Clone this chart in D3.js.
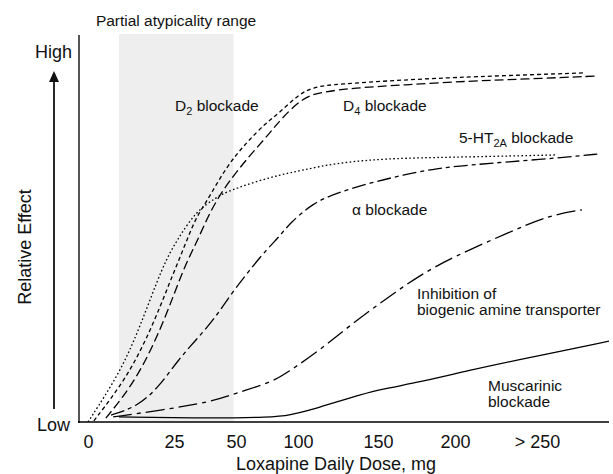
<!DOCTYPE html>
<html>
<head>
<meta charset="utf-8">
<script src="https://cdn.jsdelivr.net/npm/d3@7"></script>
<style>
  html, body { margin: 0; padding: 0; background: #fff; }
  svg { display: block; font-family: "Liberation Sans", Arial, Helvetica, sans-serif; }
</style>
</head>
<body>
<svg id="chart" width="613" height="474"></svg>
<script>
// ---- data (dose in mg, relative effect 0..100) ----
const doseTicks = [0, 25, 50, 100, 150, 200, 250];
const tickLabels = ["0", "25", "50", "100", "150", "200", "> 250"];
const shadeRange = [9, 49];

const d2Blockade = [[1.7,0.3],[11.3,11.4],[18.3,23.8],[23.8,36.2],[28.6,44.4],[33.9,53.0],[37.9,56.6],[46,65.9],[58.1,72.1],[74.2,77.3],[84.7,79.8],[100,84.5],[109.4,86.6],[124.4,87.3],[166.2,88.4],[209.1,89.2],[278,90.2]];
const d4Blockade = [[5.2,1.0],[14.2,10.9],[22.1,25.8],[29,40.1],[34.3,46.5],[40.3,55.6],[48.4,63.3],[62.9,69.5],[77.4,74.7],[85.5,78.0],[103.1,84.0],[115.6,85.3],[134.4,86.3],[166.2,87.1],[209.1,88.1],[241.5,88.6],[286.6,89.4]];
const ht2aBlockade = [[0,0],[9.3,12.7],[15.1,24.5],[21.8,40.6],[26.2,47.0],[33.9,54.5],[42.3,58.1],[46,59.4],[62.5,61.8],[84.7,63.8],[103,65.1],[124,66.9],[145,67.7],[166,68.2],[209,68.5],[261,69.0]];
const alphaBlockade = [[6.7,1.8],[14.2,3.9],[20.6,9.0],[26.6,16.0],[33.9,21.2],[41.9,27.1],[48.8,33.9],[72.6,43.9],[84.7,47.8],[93.5,51.4],[109.4,56.6],[124.4,59.2],[145,61.8],[166.2,63.8],[188.3,65.6],[209.1,66.4],[231.7,67.2],[262.2,68.2],[288.4,69.3]];
const amineTransporter = [[7.3,1.3],[21.5,3.1],[40.3,5.2],[50,7.5],[77.4,10.1],[91.1,12.7],[113.8,18.6],[134.4,25.6],[155.8,32.0],[177.3,38.0],[198.7,42.6],[231.7,48.8],[257.9,53.5],[277.4,54.8]];
const muscarinic = [[9,1.3],[35,1.0],[80,1.2],[93.5,1.8],[107.5,3.1],[113.8,3.9],[132.4,6.2],[149.4,8.3],[177.3,10.3],[209.1,13.4],[237.8,16.0],[294,20.9]];

// ---- layout ----
const svg = d3.select("#chart");
const plot = { left: 79, right: 609, top: 35, bottom: 422 };
const font = "\"Liberation Sans\", Arial, Helvetica, sans-serif";
const ink = "#111";

// non-linear dose axis (piecewise linear between tick positions)
const x = d3.scaleLinear()
  .domain([0, 25, 50, 100, 150, 200, 250, 300])
  .range([88, 174, 236, 298, 378, 455, 537, 619]);
const y = d3.scaleLinear().domain([0, 100]).range([plot.bottom, plot.top]);

svg.append("defs").append("clipPath").attr("id", "clip")
  .append("rect").attr("x", plot.left).attr("y", 0)
  .attr("width", plot.right - plot.left).attr("height", plot.bottom);

// shaded partial atypicality range
svg.append("rect")
  .attr("x", x(shadeRange[0])).attr("y", plot.top - 1)
  .attr("width", x(shadeRange[1]) - x(shadeRange[0]))
  .attr("height", plot.bottom - plot.top + 1)
  .attr("fill", "#eeeeee");

svg.append("text").attr("x", 176).attr("y", 26)
  .attr("text-anchor", "middle").attr("font-size", 15.5).attr("fill", ink)
  .text("Partial atypicality range");

// curves
const line = d3.line().x(d => x(d[0])).y(d => y(d[1])).curve(d3.curveBasis);
const series = [
  { data: d2Blockade, dash: "4,3" },
  { data: d4Blockade, dash: "9,4" },
  { data: ht2aBlockade, dash: "1.6,2.4" },
  { data: alphaBlockade, dash: "14,4,4,4" },
  { data: amineTransporter, dash: "19,5,4,5" },
  { data: muscarinic, dash: null }
];
const g = svg.append("g").attr("clip-path", "url(#clip)");
series.forEach(s => {
  g.append("path").datum(s.data).attr("d", line)
    .attr("fill", "none").attr("stroke", "#000").attr("stroke-width", 1.3)
    .attr("stroke-dasharray", s.dash);
});

// axes
svg.append("line").attr("x1", plot.left).attr("x2", plot.left)
  .attr("y1", plot.top).attr("y2", plot.bottom + 1)
  .attr("stroke", "#555").attr("stroke-width", 2);
svg.append("line").attr("x1", plot.left - 1).attr("x2", plot.right)
  .attr("y1", plot.bottom).attr("y2", plot.bottom)
  .attr("stroke", "#000").attr("stroke-width", 1.6);

const xAxis = d3.axisBottom(x).tickValues(doseTicks)
  .tickFormat((d, i) => tickLabels[i]).tickSize(0).tickPadding(13);
const ax = svg.append("g").attr("transform", `translate(0,${plot.bottom})`).call(xAxis);
ax.select(".domain").remove();
ax.selectAll("text").attr("font-size", 18).attr("font-family", font).attr("fill", ink);

svg.append("text").attr("x", 336).attr("y", 470).attr("text-anchor", "middle")
  .attr("font-size", 18).attr("fill", ink).text("Loxapine Daily Dose, mg");

svg.append("text").attr("transform", "translate(31,247) rotate(-90)")
  .attr("text-anchor", "middle").attr("font-size", 18).attr("fill", ink)
  .text("Relative Effect");

svg.append("text").attr("x", 72).attr("y", 58).attr("text-anchor", "end")
  .attr("font-size", 18).attr("fill", ink).text("High");
svg.append("text").attr("x", 70).attr("y", 431).attr("text-anchor", "end")
  .attr("font-size", 18).attr("fill", ink).text("Low");

// arrow
svg.append("line").attr("x1", 54).attr("x2", 54).attr("y1", 409).attr("y2", 80)
  .attr("stroke", ink).attr("stroke-width", 1.8);
svg.append("path").attr("d", "M54,71 L49,82 L59,82 Z").attr("fill", ink);

// curve labels
function label(xp, yp, main, sub, rest) {
  const t = svg.append("text").attr("x", xp).attr("y", yp)
    .attr("font-size", 15.5).attr("fill", ink);
  t.append("tspan").text(main);
  if (sub) {
    t.append("tspan").attr("font-size", 11).attr("dy", 4).text(sub);
    t.append("tspan").attr("dy", -4).text(rest);
  }
  return t;
}
label(175, 111, "D", "2", " blockade");
label(343, 111, "D", "4", " blockade");
label(459, 143, "5-HT", "2A", " blockade");
label(352, 215, "\u03b1 blockade");
label(417, 299, "Inhibition of");
label(417, 315, "biogenic amine transporter");
label(488, 391, "Muscarinic");
label(488, 407, "blockade");
</script>
</body>
</html>
